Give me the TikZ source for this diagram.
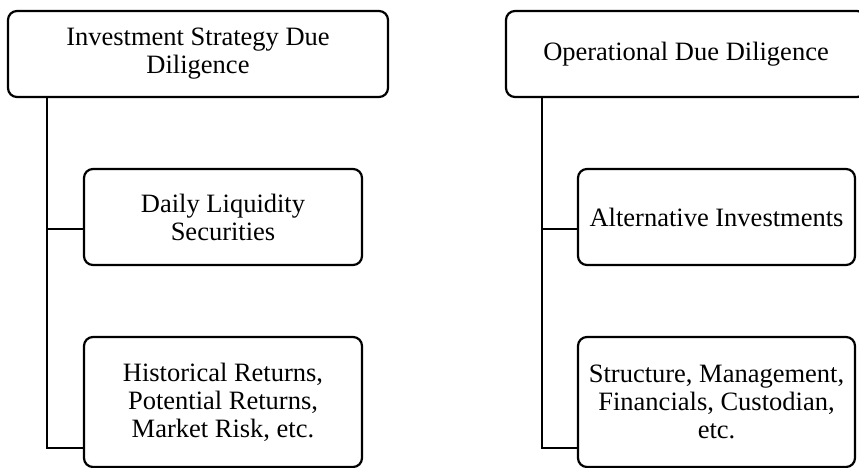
\documentclass[tikz,border=0pt]{standalone}
\usepackage{fontspec}
\setmainfont{Liberation Serif}

\begin{document}
\begin{tikzpicture}[x=1pt, y=-1pt,
  box/.style={draw, line width=2.2pt, rounded corners=9pt, align=center,
    inner sep=0pt, font=\fontsize{26.5}{28}\selectfont},
  link/.style={draw, line width=1.2pt}]

  \useasboundingbox (0,0) rectangle (859,467);
  \clip (0,0) rectangle (859,467);

  \node[box, minimum width=380pt, minimum height=86pt] (isdd) at (198,54) {Investment Strategy Due\\Diligence};
  \node[box, minimum width=278pt, minimum height=96pt] (liq) at (223,217) {Daily Liquidity\\Securities};
  \node[box, minimum width=278pt, minimum height=130pt] (hist) at (223,402) {Historical Returns,\\Potential Returns,\\Market Risk, etc.};

  \node[box, minimum width=360pt, minimum height=86pt] (odd) at (686,54) {Operational Due Diligence};
  \node[box, minimum width=277pt, minimum height=96pt] (alt) at (716.5,217) {Alternative Investments};
  \node[box, minimum width=277pt, minimum height=130pt] (struct) at (716.5,402) {Structure, Management,\\Financials, Custodian,\\etc.};

  \coordinate (lspine) at ([xshift=40pt]isdd.south west);
  \coordinate (rspine) at ([xshift=37pt]odd.south west);

  \path[link] (lspine) |- ([yshift=-12pt]liq.west);
  \path[link] (lspine) |- ([yshift=-46pt]hist.west);
  \path[link] (rspine) |- ([yshift=-12pt]alt.west);
  \path[link] (rspine) |- ([yshift=-46pt]struct.west);

\end{tikzpicture}
\end{document}
